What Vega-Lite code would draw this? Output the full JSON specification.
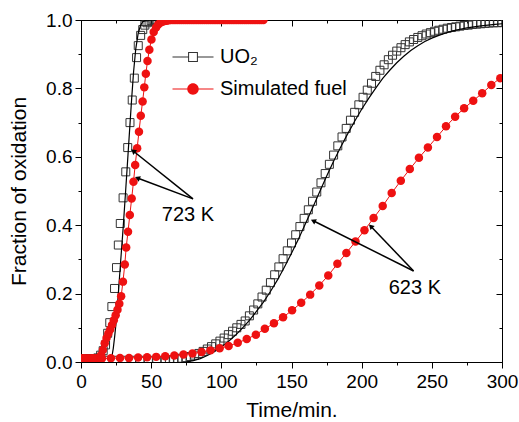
{
  "$schema": "https://vega.github.io/schema/vega-lite/v6.json",
  "width": 421,
  "height": 342,
  "autosize": {"type": "none"},
  "padding": {"left": 81, "top": 20, "right": 17, "bottom": 60},
  "background": "white",
  "config": {
    "font": "Liberation Sans",
    "view": {"stroke": "black", "strokeWidth": 1},
    "axis": {"labelFontSize": 19, "titleFontSize": 21, "titleFontWeight": "normal", "labelColor": "black", "titleColor": "black", "domainColor": "black", "tickColor": "black", "grid": false, "labelFont": "Liberation Sans", "titleFont": "Liberation Sans"}
  },
  "datasets": {
    "sim": [
      {"T":"723 K","t":0,"f":0.01},{"T":"723 K","t":1.3,"f":0.01},{"T":"723 K","t":2.6,"f":0.01},{"T":"723 K","t":3.9,"f":0.01},{"T":"723 K","t":5.2,"f":0.01},{"T":"723 K","t":6.5,"f":0.01},{"T":"723 K","t":7.8,"f":0.01},{"T":"723 K","t":9.1,"f":0.01},{"T":"723 K","t":10.4,"f":0.01},{"T":"723 K","t":11.7,"f":0.011},{"T":"723 K","t":13,"f":0.012},{"T":"723 K","t":14.3,"f":0.02},{"T":"723 K","t":15.6,"f":0.035},{"T":"723 K","t":16.9,"f":0.055},{"T":"723 K","t":18.2,"f":0.07},{"T":"723 K","t":19.5,"f":0.083},{"T":"723 K","t":20.8,"f":0.095},{"T":"723 K","t":22.1,"f":0.108},{"T":"723 K","t":23.4,"f":0.122},{"T":"723 K","t":24.7,"f":0.137},{"T":"723 K","t":26,"f":0.153},{"T":"723 K","t":27.3,"f":0.17},{"T":"723 K","t":28.6,"f":0.192},{"T":"723 K","t":29.9,"f":0.235},{"T":"723 K","t":31.2,"f":0.285},{"T":"723 K","t":32.2,"f":0.335},{"T":"723 K","t":33.5,"f":0.381},{"T":"723 K","t":34.8,"f":0.43},{"T":"723 K","t":36.1,"f":0.478},{"T":"723 K","t":37.4,"f":0.527},{"T":"723 K","t":38.6,"f":0.576},{"T":"723 K","t":40,"f":0.625},{"T":"723 K","t":41.3,"f":0.673},{"T":"723 K","t":42.6,"f":0.72},{"T":"723 K","t":43.9,"f":0.762},{"T":"723 K","t":45.1,"f":0.803},{"T":"723 K","t":46.2,"f":0.843},{"T":"723 K","t":47.4,"f":0.88},{"T":"723 K","t":48.7,"f":0.913},{"T":"723 K","t":50.2,"f":0.943},{"T":"723 K","t":51.8,"f":0.965},{"T":"723 K","t":53.5,"f":0.978},{"T":"723 K","t":55,"f":0.987},{"T":"723 K","t":56.5,"f":0.992},{"T":"723 K","t":58,"f":0.995},{"T":"723 K","t":59.5,"f":0.997},{"T":"723 K","t":61,"f":0.998},{"T":"723 K","t":62.5,"f":0.999},{"T":"723 K","t":64,"f":1},{"T":"723 K","t":65.5,"f":1},{"T":"723 K","t":67,"f":1},{"T":"723 K","t":68.5,"f":1},{"T":"723 K","t":70,"f":1},{"T":"723 K","t":71.5,"f":1},{"T":"723 K","t":73,"f":1},{"T":"723 K","t":74.5,"f":1},{"T":"723 K","t":76,"f":1},{"T":"723 K","t":77.5,"f":1},{"T":"723 K","t":79,"f":1},{"T":"723 K","t":80.5,"f":1},{"T":"723 K","t":82,"f":1},{"T":"723 K","t":83.5,"f":1},{"T":"723 K","t":85,"f":1},{"T":"723 K","t":86.5,"f":1},{"T":"723 K","t":88,"f":1},{"T":"723 K","t":89.5,"f":1},{"T":"723 K","t":91,"f":1},{"T":"723 K","t":92.5,"f":1},{"T":"723 K","t":94,"f":1},{"T":"723 K","t":95.5,"f":1},{"T":"723 K","t":97,"f":1},{"T":"723 K","t":98.5,"f":1},{"T":"723 K","t":100,"f":1},{"T":"723 K","t":101.5,"f":1},{"T":"723 K","t":103,"f":1},{"T":"723 K","t":104.5,"f":1},{"T":"723 K","t":106,"f":1},{"T":"723 K","t":107.5,"f":1},{"T":"723 K","t":109,"f":1},{"T":"723 K","t":110.5,"f":1},{"T":"723 K","t":112,"f":1},{"T":"723 K","t":113.5,"f":1},{"T":"723 K","t":115,"f":1},{"T":"723 K","t":116.5,"f":1},{"T":"723 K","t":118,"f":1},{"T":"723 K","t":119.5,"f":1},{"T":"723 K","t":121,"f":1},{"T":"723 K","t":122.5,"f":1},{"T":"723 K","t":124,"f":1},{"T":"723 K","t":125.5,"f":1},{"T":"723 K","t":127,"f":1},{"T":"723 K","t":128.5,"f":1},{"T":"723 K","t":130,"f":1},
      {"T":"623 K","t":2,"f":0.01},{"T":"623 K","t":8.4,"f":0.01},{"T":"623 K","t":14.9,"f":0.01},{"T":"623 K","t":21.3,"f":0.011},{"T":"623 K","t":27.8,"f":0.012},{"T":"623 K","t":34.2,"f":0.012},{"T":"623 K","t":40.7,"f":0.013},{"T":"623 K","t":47.1,"f":0.014},{"T":"623 K","t":53.6,"f":0.015},{"T":"623 K","t":60,"f":0.017},{"T":"623 K","t":66.5,"f":0.019},{"T":"623 K","t":73,"f":0.022},{"T":"623 K","t":79.4,"f":0.025},{"T":"623 K","t":85.9,"f":0.029},{"T":"623 K","t":92.3,"f":0.034},{"T":"623 K","t":98.8,"f":0.04},{"T":"623 K","t":105.2,"f":0.047},{"T":"623 K","t":111.7,"f":0.056},{"T":"623 K","t":118.1,"f":0.067},{"T":"623 K","t":124.6,"f":0.08},{"T":"623 K","t":131,"f":0.097},{"T":"623 K","t":137.5,"f":0.113},{"T":"623 K","t":144,"f":0.131},{"T":"623 K","t":150.4,"f":0.151},{"T":"623 K","t":156.9,"f":0.173},{"T":"623 K","t":163.3,"f":0.197},{"T":"623 K","t":169.8,"f":0.224},{"T":"623 K","t":176.2,"f":0.253},{"T":"623 K","t":182.7,"f":0.287},{"T":"623 K","t":189.1,"f":0.319},{"T":"623 K","t":195.6,"f":0.352},{"T":"623 K","t":202,"f":0.385},{"T":"623 K","t":208.5,"f":0.421},{"T":"623 K","t":215,"f":0.456},{"T":"623 K","t":221.4,"f":0.494},{"T":"623 K","t":227.9,"f":0.53},{"T":"623 K","t":234.3,"f":0.564},{"T":"623 K","t":240.8,"f":0.597},{"T":"623 K","t":247.2,"f":0.627},{"T":"623 K","t":253.7,"f":0.658},{"T":"623 K","t":260.1,"f":0.689},{"T":"623 K","t":266.6,"f":0.717},{"T":"623 K","t":273,"f":0.742},{"T":"623 K","t":279.5,"f":0.764},{"T":"623 K","t":285.9,"f":0.786},{"T":"623 K","t":292.4,"f":0.81},{"T":"623 K","t":298.8,"f":0.83},{"T":"623 K","t":305.3,"f":0.85}
    ],
    "uo": [
      {"T":"723 K","t":0,"f":0.01},{"T":"723 K","t":2,"f":0.01},{"T":"723 K","t":4,"f":0.01},{"T":"723 K","t":6,"f":0.01},{"T":"723 K","t":8,"f":0.01},{"T":"723 K","t":10,"f":0.01},{"T":"723 K","t":12,"f":0.012},{"T":"723 K","t":14,"f":0.02},{"T":"723 K","t":15.8,"f":0.033},{"T":"723 K","t":17.5,"f":0.05},{"T":"723 K","t":19,"f":0.084},{"T":"723 K","t":20.5,"f":0.115},{"T":"723 K","t":22,"f":0.162},{"T":"723 K","t":23.9,"f":0.215},{"T":"723 K","t":25.3,"f":0.276},{"T":"723 K","t":26.6,"f":0.342},{"T":"723 K","t":28,"f":0.405},{"T":"723 K","t":30,"f":0.48},{"T":"723 K","t":31.9,"f":0.556},{"T":"723 K","t":33.3,"f":0.627},{"T":"723 K","t":34.9,"f":0.7},{"T":"723 K","t":36.5,"f":0.766},{"T":"723 K","t":38,"f":0.83},{"T":"723 K","t":39.6,"f":0.89},{"T":"723 K","t":40.8,"f":0.925},{"T":"723 K","t":42.5,"f":0.955},{"T":"723 K","t":44,"f":0.972},{"T":"723 K","t":45.5,"f":0.985},{"T":"723 K","t":47,"f":0.992},{"T":"723 K","t":48.5,"f":0.996},{"T":"723 K","t":50,"f":0.998},{"T":"723 K","t":52,"f":1},{"T":"723 K","t":54,"f":1},{"T":"723 K","t":56,"f":1},
      {"T":"623 K","t":0,"f":0.005},{"T":"623 K","t":6,"f":0.005},{"T":"623 K","t":12,"f":0.005},{"T":"623 K","t":18,"f":0.005},{"T":"623 K","t":24,"f":0.005},{"T":"623 K","t":30,"f":0.005},{"T":"623 K","t":36,"f":0.005},{"T":"623 K","t":42,"f":0.005},{"T":"623 K","t":48,"f":0.005},{"T":"623 K","t":54,"f":0.005},{"T":"623 K","t":60,"f":0.005},{"T":"623 K","t":63,"f":0.006},{"T":"623 K","t":66,"f":0.007},{"T":"623 K","t":69,"f":0.009},{"T":"623 K","t":72,"f":0.011},{"T":"623 K","t":75,"f":0.013},{"T":"623 K","t":78,"f":0.016},{"T":"623 K","t":81,"f":0.02},{"T":"623 K","t":84,"f":0.025},{"T":"623 K","t":87,"f":0.031},{"T":"623 K","t":90,"f":0.038},{"T":"623 K","t":93,"f":0.045},{"T":"623 K","t":96,"f":0.053},{"T":"623 K","t":99,"f":0.061},{"T":"623 K","t":102,"f":0.07},{"T":"623 K","t":105,"f":0.08},{"T":"623 K","t":108,"f":0.09},{"T":"623 K","t":111,"f":0.1},{"T":"623 K","t":114,"f":0.11},{"T":"623 K","t":117,"f":0.12},{"T":"623 K","t":120,"f":0.135},{"T":"623 K","t":123,"f":0.152},{"T":"623 K","t":126,"f":0.17},{"T":"623 K","t":129,"f":0.19},{"T":"623 K","t":132,"f":0.21},{"T":"623 K","t":135,"f":0.232},{"T":"623 K","t":138,"f":0.255},{"T":"623 K","t":141,"f":0.278},{"T":"623 K","t":144,"f":0.302},{"T":"623 K","t":147,"f":0.325},{"T":"623 K","t":150,"f":0.348},{"T":"623 K","t":153,"f":0.372},{"T":"623 K","t":156,"f":0.396},{"T":"623 K","t":159,"f":0.42},{"T":"623 K","t":162,"f":0.445},{"T":"623 K","t":165,"f":0.47},{"T":"623 K","t":168,"f":0.497},{"T":"623 K","t":171,"f":0.524},{"T":"623 K","t":174,"f":0.551},{"T":"623 K","t":177,"f":0.578},{"T":"623 K","t":180,"f":0.605},{"T":"623 K","t":183,"f":0.632},{"T":"623 K","t":186,"f":0.658},{"T":"623 K","t":189,"f":0.683},{"T":"623 K","t":192,"f":0.707},{"T":"623 K","t":195,"f":0.73},{"T":"623 K","t":198,"f":0.752},{"T":"623 K","t":201,"f":0.774},{"T":"623 K","t":204,"f":0.795},{"T":"623 K","t":207,"f":0.815},{"T":"623 K","t":210,"f":0.835},{"T":"623 K","t":213,"f":0.853},{"T":"623 K","t":216,"f":0.869},{"T":"623 K","t":219,"f":0.884},{"T":"623 K","t":222,"f":0.897},{"T":"623 K","t":225,"f":0.909},{"T":"623 K","t":228,"f":0.919},{"T":"623 K","t":231,"f":0.928},{"T":"623 K","t":234,"f":0.936},{"T":"623 K","t":237,"f":0.943},{"T":"623 K","t":240,"f":0.949},{"T":"623 K","t":243,"f":0.954},{"T":"623 K","t":246,"f":0.959},{"T":"623 K","t":249,"f":0.963},{"T":"623 K","t":252,"f":0.967},{"T":"623 K","t":255,"f":0.97},{"T":"623 K","t":258,"f":0.973},{"T":"623 K","t":261,"f":0.976},{"T":"623 K","t":264,"f":0.978},{"T":"623 K","t":267,"f":0.98},{"T":"623 K","t":270,"f":0.982},{"T":"623 K","t":273,"f":0.984},{"T":"623 K","t":276,"f":0.985},{"T":"623 K","t":279,"f":0.987},{"T":"623 K","t":282,"f":0.988},{"T":"623 K","t":285,"f":0.989},{"T":"623 K","t":288,"f":0.99},{"T":"623 K","t":291,"f":0.991},{"T":"623 K","t":294,"f":0.992},{"T":"623 K","t":297,"f":0.992},{"T":"623 K","t":300,"f":0.993}
    ],
    "fit": [
      {"T":"723 K","t":20,"f":0},{"T":"723 K","t":22,"f":0.015},{"T":"723 K","t":23,"f":0.04},{"T":"723 K","t":24,"f":0.075},{"T":"723 K","t":25,"f":0.115},{"T":"723 K","t":26.6,"f":0.2},{"T":"723 K","t":28,"f":0.28},{"T":"723 K","t":30,"f":0.39},{"T":"723 K","t":31.8,"f":0.5},{"T":"723 K","t":33,"f":0.575},{"T":"723 K","t":34.5,"f":0.67},{"T":"723 K","t":36.1,"f":0.77},{"T":"723 K","t":37.5,"f":0.85},{"T":"723 K","t":39,"f":0.915},{"T":"723 K","t":40.8,"f":0.962},{"T":"723 K","t":42.5,"f":0.985},{"T":"723 K","t":44,"f":0.995},{"T":"723 K","t":46,"f":0.999},{"T":"723 K","t":48,"f":1},{"T":"723 K","t":56,"f":1},
      {"T":"623 K","t":75,"f":0},{"T":"623 K","t":80,"f":0.004},{"T":"623 K","t":85,"f":0.01},{"T":"623 K","t":90,"f":0.019},{"T":"623 K","t":95,"f":0.03},{"T":"623 K","t":100,"f":0.044},{"T":"623 K","t":105,"f":0.06},{"T":"623 K","t":110,"f":0.078},{"T":"623 K","t":115,"f":0.099},{"T":"623 K","t":120,"f":0.122},{"T":"623 K","t":125,"f":0.148},{"T":"623 K","t":130,"f":0.175},{"T":"623 K","t":135,"f":0.206},{"T":"623 K","t":140,"f":0.24},{"T":"623 K","t":145,"f":0.278},{"T":"623 K","t":150,"f":0.318},{"T":"623 K","t":155,"f":0.36},{"T":"623 K","t":160,"f":0.405},{"T":"623 K","t":165,"f":0.45},{"T":"623 K","t":170,"f":0.497},{"T":"623 K","t":175,"f":0.543},{"T":"623 K","t":180,"f":0.587},{"T":"623 K","t":185,"f":0.628},{"T":"623 K","t":190,"f":0.667},{"T":"623 K","t":195,"f":0.704},{"T":"623 K","t":200,"f":0.739},{"T":"623 K","t":205,"f":0.771},{"T":"623 K","t":210,"f":0.801},{"T":"623 K","t":215,"f":0.829},{"T":"623 K","t":220,"f":0.853},{"T":"623 K","t":225,"f":0.875},{"T":"623 K","t":230,"f":0.894},{"T":"623 K","t":235,"f":0.911},{"T":"623 K","t":240,"f":0.925},{"T":"623 K","t":245,"f":0.937},{"T":"623 K","t":250,"f":0.947},{"T":"623 K","t":255,"f":0.955},{"T":"623 K","t":260,"f":0.962},{"T":"623 K","t":265,"f":0.968},{"T":"623 K","t":270,"f":0.973},{"T":"623 K","t":275,"f":0.977},{"T":"623 K","t":280,"f":0.98},{"T":"623 K","t":285,"f":0.983},{"T":"623 K","t":290,"f":0.985},{"T":"623 K","t":295,"f":0.987},{"T":"623 K","t":300,"f":0.989}
    ],
    "series": [{"s": "UO₂"}, {"s": "Simulated fuel"}],
    "arrows": [
      {"t":79.8,"f":0.477,"t2":37.2,"f2":0.617},
      {"t":79.8,"f":0.477,"t2":40.2,"f2":0.538},
      {"t":237,"f":0.266,"t2":165.5,"f2":0.413},
      {"t":237,"f":0.266,"t2":206.5,"f2":0.397}
    ],
    "labels": [
      {"label":"723 K","t":76.2,"f":0.43},
      {"label":"623 K","t":237.9,"f":0.216}
    ]
  },
  "layer": [
    {
      "data": {"name": "uo"},
      "mark": {"type": "point", "shape": "square", "filled": false, "size": 64, "strokeWidth": 1, "opacity": 1, "clip": true, "color": "#333333"},
      "encoding": {
        "x": {"field": "t", "type": "quantitative", "scale": {"domain": [0, 300], "nice": false, "zero": false},
          "axis": {"orient": "bottom", "title": "Time/min.", "values": [0,25,50,75,100,125,150,175,200,225,250,275,300], "labelExpr": "datum.value % 50 ? '' : datum.label", "tickSize": {"condition": {"test": "datum.value % 50 !== 0", "value": 3}, "value": 6}, "labelPadding": 4, "titlePadding": 8, "labelFlush": false, "labelOverlap": false}},
        "y": {"field": "f", "type": "quantitative", "scale": {"domain": [0, 1], "nice": false},
          "axis": {"orient": "left", "title": "Fraction of oxidation", "values": [0,0.1,0.2,0.3,0.4,0.5,0.6,0.7,0.8,0.9,1.0], "format": ".1f", "labelExpr": "round(datum.value*10) % 2 === 1 ? '' : datum.label", "tickSize": {"condition": {"test": "round(datum.value*10) % 2 === 1", "value": 3}, "value": 6}, "labelPadding": 3, "titlePadding": 16, "labelFlush": false, "labelOverlap": false}}
      }
    },
    {
      "data": {"name": "fit"},
      "mark": {"type": "line", "color": "black", "strokeWidth": 1.2, "clip": true},
      "encoding": {
        "x": {"field": "t", "type": "quantitative", "axis": null},
        "y": {"field": "f", "type": "quantitative", "axis": null},
        "detail": {"field": "T"}
      }
    },
    {
      "data": {"name": "sim"},
      "mark": {"type": "line", "color": "#ee1111", "strokeWidth": 1, "clip": true},
      "encoding": {
        "x": {"field": "t", "type": "quantitative", "axis": null},
        "y": {"field": "f", "type": "quantitative", "axis": null},
        "detail": {"field": "T"}
      }
    },
    {
      "data": {"name": "sim"},
      "mark": {"type": "point", "shape": "circle", "filled": true, "size": 72, "opacity": 1, "clip": true, "color": "#ee1111"},
      "encoding": {
        "x": {"field": "t", "type": "quantitative", "axis": null},
        "y": {"field": "f", "type": "quantitative", "axis": null}
      }
    },
    {
      "data": {"name": "series"},
      "transform": [{"filter": "datum.s === 'none'"}],
      "mark": {"type": "point", "filled": true, "opacity": 1},
      "encoding": {
        "color": {"field": "s", "type": "nominal",
          "scale": {"domain": ["UO₂", "Simulated fuel"], "range": ["#333333", "#ee1111"]},
          "legend": {"orient": "none", "legendX": 90.5, "legendY": 15.5, "title": null, "labelFontSize": 20, "labelFont": "Liberation Sans", "labelColor": "black", "symbolSize": 1681, "rowPadding": -11, "labelOffset": 5.5, "padding": 0, "symbolOpacity": 1}},
        "shape": {"field": "s", "type": "nominal",
          "scale": {"domain": ["UO₂", "Simulated fuel"], "range": [
            "M-1,-0.025H-0.24V0.025H-1Z M0.24,-0.025H1V0.025H0.24Z M-0.24,-0.24H0.24V0.24H-0.24Z M-0.19,-0.19V0.19H0.19V-0.19Z",
            "M-1,-0.025H-0.2V0.025H-1Z M0.2,-0.025H1V0.025H0.2Z M0.28,0A0.28,0.28,0,1,1,-0.28,0A0.28,0.28,0,1,1,0.28,0Z"
          ]},
          "legend": {"orient": "none", "legendX": 90.5, "legendY": 15.5, "title": null, "labelFontSize": 20, "labelFont": "Liberation Sans", "labelColor": "black", "symbolSize": 1681, "rowPadding": -11, "labelOffset": 5.5, "padding": 0, "symbolOpacity": 1}}
      }
    },
    {
      "data": {"name": "arrows"},
      "mark": {"type": "rule", "color": "black", "strokeWidth": 1.5},
      "encoding": {
        "x": {"field": "t", "type": "quantitative", "axis": null},
        "y": {"field": "f", "type": "quantitative", "axis": null},
        "x2": {"field": "t2"},
        "y2": {"field": "f2"}
      }
    },
    {
      "data": {"values": [{"t": 37.2, "f": 0.617}]},
      "mark": {"type": "point", "shape": "triangle-up", "angle": 309, "filled": true, "color": "black", "size": 35, "opacity": 1},
      "encoding": {"x": {"field": "t", "type": "quantitative", "axis": null}, "y": {"field": "f", "type": "quantitative", "axis": null}}
    },
    {
      "data": {"values": [{"t": 40.2, "f": 0.538}]},
      "mark": {"type": "point", "shape": "triangle-up", "angle": 291, "filled": true, "color": "black", "size": 35, "opacity": 1},
      "encoding": {"x": {"field": "t", "type": "quantitative", "axis": null}, "y": {"field": "f", "type": "quantitative", "axis": null}}
    },
    {
      "data": {"values": [{"t": 165.5, "f": 0.413}]},
      "mark": {"type": "point", "shape": "triangle-up", "angle": 296, "filled": true, "color": "black", "size": 35, "opacity": 1},
      "encoding": {"x": {"field": "t", "type": "quantitative", "axis": null}, "y": {"field": "f", "type": "quantitative", "axis": null}}
    },
    {
      "data": {"values": [{"t": 206.5, "f": 0.397}]},
      "mark": {"type": "point", "shape": "triangle-up", "angle": 316, "filled": true, "color": "black", "size": 35, "opacity": 1},
      "encoding": {"x": {"field": "t", "type": "quantitative", "axis": null}, "y": {"field": "f", "type": "quantitative", "axis": null}}
    },
    {
      "data": {"name": "labels"},
      "mark": {"type": "text", "fontSize": 20, "font": "Liberation Sans", "color": "black", "align": "center", "baseline": "middle"},
      "encoding": {
        "x": {"field": "t", "type": "quantitative",
          "axis": {"orient": "top", "title": null, "labels": false, "values": [0,25,50,75,100,125,150,175,200,225,250,275,300], "tickSize": {"condition": {"test": "datum.value % 50 !== 0", "value": -3}, "value": -6}}},
        "y": {"field": "f", "type": "quantitative",
          "axis": {"orient": "right", "title": null, "labels": false, "values": [0,0.1,0.2,0.3,0.4,0.5,0.6,0.7,0.8,0.9,1.0], "tickSize": {"condition": {"test": "round(datum.value*10) % 2 === 1", "value": -3}, "value": -6}}},
        "text": {"field": "label"}
      }
    }
  ]
}
